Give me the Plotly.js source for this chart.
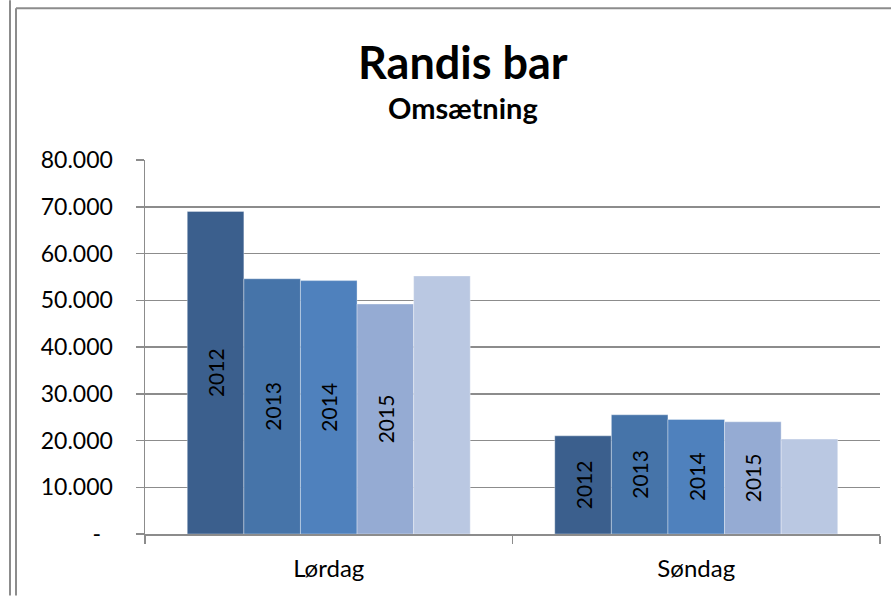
<!DOCTYPE html>
<html>
<head>
<meta charset="utf-8">
<script src="https://cdn.plot.ly/plotly-3.0.1.min.js"></script>
<style>
  html, body { margin: 0; padding: 0; background: #fff; }
  #chart { width: 891px; height: 596px; }
</style>
</head>
<body>
<div id="chart"></div>
<script>
// ---- data ----
const categories = ['Lørdag', 'Søndag'];
const seriesNames = ['2012', '2013', '2014', '2015', ''];
const values2012 = [69000, 21000];
const values2013 = [54600, 25500];
const values2014 = [54200, 24500];
const values2015 = [49200, 24000];
const values5th  = [55200, 20300];
const tickValues = [0, 10000, 20000, 30000, 40000, 50000, 60000, 70000, 80000];
const tickLabels = ['-\u00a0\u00a0', '10.000', '20.000', '30.000', '40.000', '50.000', '60.000', '70.000', '80.000'];
const titleText = 'Randis bar';
const subtitleText = 'Omsætning';

// ---- styling ----
const colors = ['#3b5f8d', '#4674a9', '#4f81bd', '#95abd3', '#bac8e2'];
const allValues = [values2012, values2013, values2014, values2015, values5th];
const FONT = 'Lato, "Open Sans", sans-serif';
const W = 891, H = 596;
const M = { l: 145, r: 11, t: 160, b: 61.5 };
const PW = W - M.l - M.r, PH = H - M.t - M.b;
const px = x => (x - M.l) / PW;
const py = y => (H - M.b - y) / PH;
const grey = '#8c8c8c';

const traces = allValues.map((vals, i) => ({
  type: 'bar',
  name: seriesNames[i] || 'Serie 5',
  x: categories,
  y: vals,
  text: categories.map(() => seriesNames[i]),
  textposition: 'inside',
  insidetextanchor: 'middle',
  textangle: -90,
  insidetextfont: { family: FONT, size: 21, color: '#000' },
  marker: { color: colors[i], line: { color: 'rgba(255,255,255,0.35)', width: 1 } },
  hoverinfo: 'skip'
}));

const layout = {
  width: W, height: H,
  margin: M,
  paper_bgcolor: '#fff', plot_bgcolor: '#fff',
  showlegend: false,
  barmode: 'group',
  bargap: 0.23,
  bargroupgap: 0,
  font: { family: FONT, color: '#000' },
  xaxis: {
    type: 'category',
    showgrid: false,
    showline: true, linecolor: grey, linewidth: 1.5,
    ticks: 'outside', tickson: 'boundaries', ticklen: 8, tickcolor: grey, tickwidth: 1.5,
    tickfont: { family: FONT, size: 24, color: '#000' },
    ticklabelstandoff: 13,
    zeroline: false
  },
  yaxis: {
    range: [0, 80000],
    tickmode: 'array', tickvals: tickValues, ticktext: tickLabels,
    showgrid: true, gridcolor: grey, gridwidth: 1.5,
    showline: true, linecolor: grey, linewidth: 1.5,
    ticks: 'outside', ticklen: 8, tickcolor: grey, tickwidth: 1.5,
    tickfont: { family: FONT, size: 23, color: '#000' },
    ticklabelstandoff: 18,
    zeroline: false,
    fixedrange: true
  },
  annotations: [
    { text: '<b>' + titleText + '</b>', xref: 'paper', yref: 'paper', x: px(463), y: py(62),
      xanchor: 'center', yanchor: 'middle', showarrow: false, font: { family: FONT, size: 45, color: '#000' } },
    { text: '<b>' + subtitleText + '</b>', xref: 'paper', yref: 'paper', x: px(463), y: py(107),
      xanchor: 'center', yanchor: 'middle', showarrow: false, font: { family: FONT, size: 29, color: '#000' } }
  ],
  shapes: [
    { type: 'line', xref: 'paper', yref: 'paper', x0: px(10), x1: px(10), y0: py(0), y1: py(H), line: { color: grey, width: 2 } },
    { type: 'line', xref: 'paper', yref: 'paper', x0: px(16), x1: px(16), y0: py(8), y1: py(H), line: { color: grey, width: 2 } },
    { type: 'line', xref: 'paper', yref: 'paper', x0: px(16), x1: px(W), y0: py(8), y1: py(8), line: { color: grey, width: 2 } }
  ]
};

Plotly.newPlot('chart', traces, layout, { staticPlot: true, displayModeBar: false });
</script>
</body>
</html>
